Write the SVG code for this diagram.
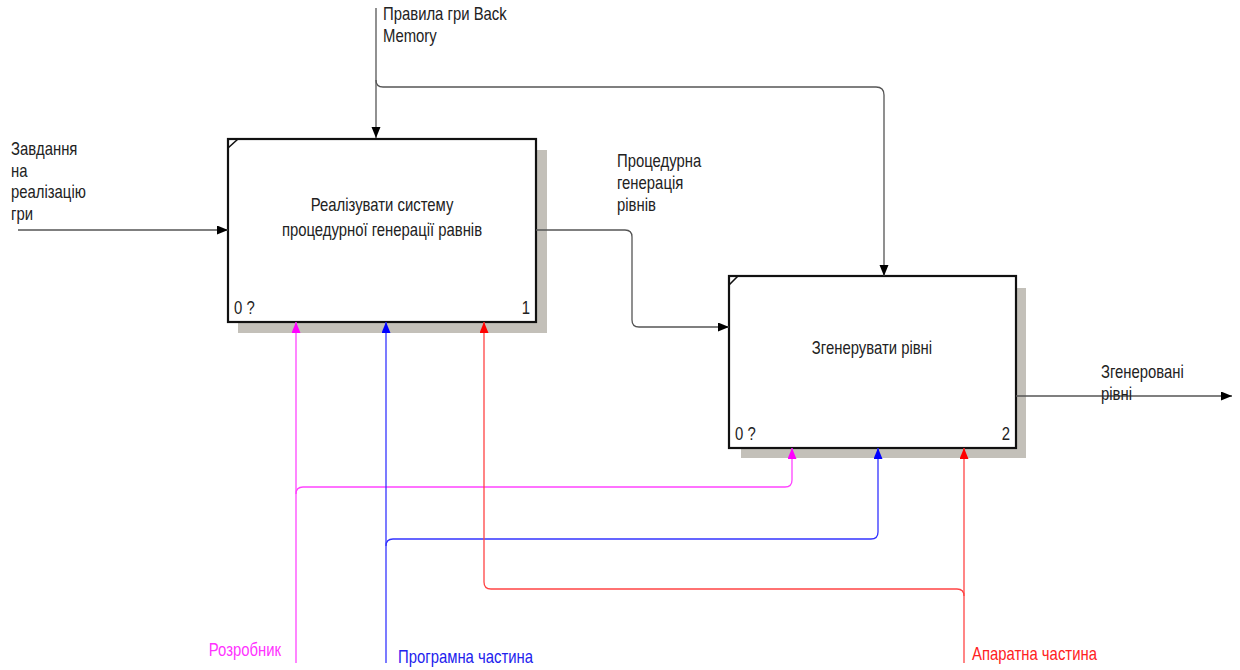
<svg xmlns="http://www.w3.org/2000/svg" width="1240" height="670" viewBox="0 0 1240 670">
  <style>
    text { font-family: "Liberation Sans", Arial, sans-serif; font-size: 17.5px; fill: #222;
           transform-box: fill-box; transform-origin: left center; transform: scaleX(0.85); }
    .mid { text-anchor: middle; transform-origin: center center; }
    .end { text-anchor: end; transform-origin: right center; }
    .shadow { fill: #c3c0b9; }
    .box { fill: #fff; stroke: #111; stroke-width: 2.2; }
    .corner { stroke: #111; stroke-width: 1.6; fill: none; }
    .conn { fill: none; stroke-width: 1.3; }
    .k { stroke: #555; }
    .m { stroke: #ff44ff; }
    .b { stroke: #3333ff; }
    .r { stroke: #ff4444; }
  </style>
  <defs>
    <marker id="ak" markerUnits="userSpaceOnUse" markerWidth="12" markerHeight="10" refX="11" refY="4.5" orient="auto">
      <path d="M0,0 L11,4.5 L0,9 z" fill="#000"/>
    </marker>
    <marker id="am" markerUnits="userSpaceOnUse" markerWidth="12" markerHeight="10" refX="11" refY="4.5" orient="auto">
      <path d="M0,0 L11,4.5 L0,9 z" fill="#ff00ff"/>
    </marker>
    <marker id="ab" markerUnits="userSpaceOnUse" markerWidth="12" markerHeight="10" refX="11" refY="4.5" orient="auto">
      <path d="M0,0 L11,4.5 L0,9 z" fill="#0000ff"/>
    </marker>
    <marker id="ar" markerUnits="userSpaceOnUse" markerWidth="12" markerHeight="10" refX="11" refY="4.5" orient="auto">
      <path d="M0,0 L11,4.5 L0,9 z" fill="#ff0000"/>
    </marker>
  </defs>

  <rect width="1240" height="670" fill="#fff"/>

  <!-- Activity 1 -->
  <g id="node-a1">
    <rect class="shadow" x="238" y="150" width="309" height="183"/>
    <rect class="box" x="228" y="139" width="308" height="183"/>
    <path class="corner" d="M228,148 L238,139"/>
    <text class="mid" x="382" y="211">Реалізувати систему</text>
    <text class="mid" x="382" y="236">процедурної генерації равнів</text>
    <text x="234" y="314">0 ?</text>
    <text class="end" x="530" y="314">1</text>
  </g>

  <!-- Activity 2 -->
  <g id="node-a2">
    <rect class="shadow" x="741" y="288" width="285" height="170"/>
    <rect class="box" x="729" y="276" width="287" height="172"/>
    <path class="corner" d="M729,285 L738,276"/>
    <text class="mid" x="872" y="354">Згенерувати рівні</text>
    <text x="735" y="440">0 ?</text>
    <text class="end" x="1010" y="440">2</text>
  </g>

  <!-- Arrows between and around the activities -->
  <g id="connectors">
    <!-- control: game rules -->
    <path class="conn k" d="M376,8 V138" marker-end="url(#ak)"/>
    <path class="conn k" d="M376,80 Q376,87 383,87 H876 Q884,87 884,95 V276" marker-end="url(#ak)"/>
    <!-- input: task -->
    <path class="conn k" d="M18,230 H228" marker-end="url(#ak)"/>
    <!-- 1 to 2 -->
    <path class="conn k" d="M536,230 H625 Q632,230 632,237 V320 Q632,327 639,327 H729" marker-end="url(#ak)"/>
    <!-- output -->
    <path class="conn k" d="M1016,396 H1232" marker-end="url(#ak)"/>

    <!-- mechanism: developer -->
    <path class="conn m" d="M296,663 V322" marker-end="url(#am)"/>
    <path class="conn m" d="M296,494 Q296,487 303,487 H785 Q792,487 792,480 V448" marker-end="url(#am)"/>
    <!-- mechanism: software -->
    <path class="conn b" d="M386,663 V322" marker-end="url(#ab)"/>
    <path class="conn b" d="M386,546 Q386,539 393,539 H871 Q878,539 878,532 V448" marker-end="url(#ab)"/>
    <!-- mechanism: hardware -->
    <path class="conn r" d="M964,663 V448" marker-end="url(#ar)"/>
    <path class="conn r" d="M964,596 Q964,589 957,589 H491 Q484,589 484,582 V322" marker-end="url(#ar)"/>
  </g>

  <!-- Arrow labels -->
  <g id="labels">
    <text x="383" y="20">Правила гри Back</text>
    <text x="383" y="42">Memory</text>
    <text x="11" y="155">Завдання</text>
    <text x="11" y="177">на</text>
    <text x="11" y="198">реалізацію</text>
    <text x="11" y="220">гри</text>
    <text x="617" y="167">Процедурна</text>
    <text x="617" y="189">генерація</text>
    <text x="617" y="211">рівнів</text>
    <text x="1101" y="378">Згенеровані</text>
    <text x="1101" y="400">рівні</text>
    <text class="end" x="281" y="656" style="fill:#ff33ff">Розробник</text>
    <text x="398" y="663" style="fill:#2222ee">Програмна частина</text>
    <text x="972" y="660" style="fill:#ff2222">Апаратна частина</text>
  </g>
</svg>
